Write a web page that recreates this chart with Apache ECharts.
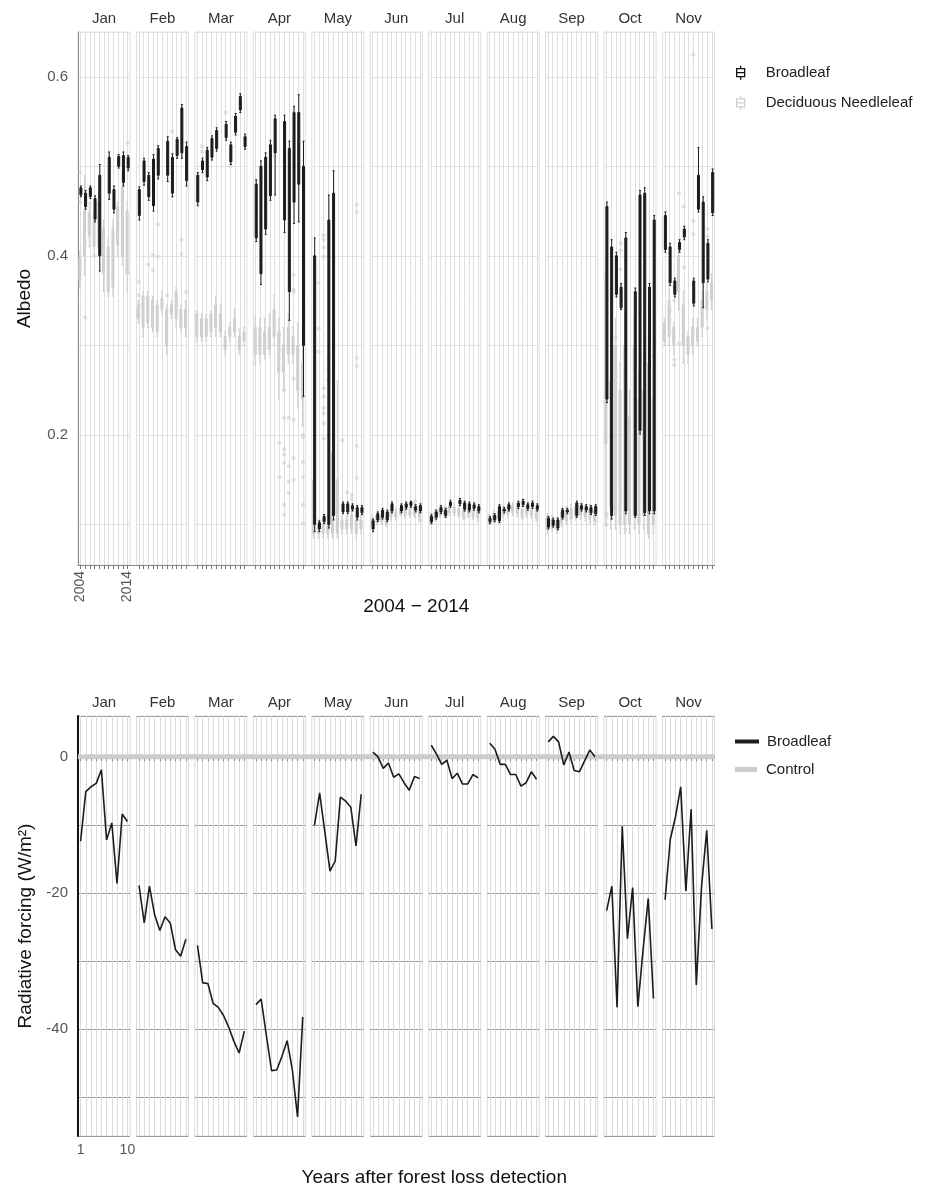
<!DOCTYPE html>
<html><head><meta charset="utf-8">
<script src="https://cdn.jsdelivr.net/npm/echarts@6/dist/echarts.min.js"></script>
<style>html,body{margin:0;padding:0;background:#fff}#c{width:932px;height:1189px}</style>
</head><body><div id="c"></div>
<script>
const months = ['Jan','Feb','Mar','Apr','May','Jun','Jul','Aug','Sep','Oct','Nov'];
const years = ['2004','2005','2006','2007','2008','2009','2010','2011','2012','2013','2014'];
const yearsAfter = ['1','2','3','4','5','6','7','8','9','10'];

// Albedo boxes, Broadleaf: [min, Q1, median, Q3, max] per year 2004..2014 (null = no box)
const blJan = [[.466,.468,.472,.476,.478],[.452,.455,.462,.470,.473],[.464,.466,.471,.476,.478],[.438,.441,.452,.464,.467],[.383,.40,.45,.49,.502],null,[.463,.47,.49,.51,.516],[.448,.452,.462,.474,.478],[.498,.50,.506,.511,.513],[.478,.482,.498,.512,.516],[.495,.498,.504,.51,.512]];
const blFeb = [[.44,.445,.46,.474,.477],[.479,.483,.495,.506,.509],[.462,.466,.478,.49,.493],[.45,.456,.48,.508,.513],[.486,.49,.505,.52,.523],null,[.483,.49,.51,.528,.533],[.466,.47,.49,.51,.514],[.509,.512,.52,.53,.532],[.509,.515,.54,.565,.569],[.478,.484,.50,.522,.527]];
const blMar = [[.456,.46,.475,.49,.493],[.493,.496,.50,.506,.509],[.484,.488,.503,.518,.521],[.507,.51,.52,.531,.534],[.517,.52,.53,.54,.543],null,[.529,.532,.54,.547,.55],[.502,.505,.515,.524,.527],[.535,.538,.548,.556,.559],[.56,.563,.57,.578,.581],[.519,.522,.528,.533,.536]];
const blApr = [[.416,.42,.45,.48,.485],[.368,.38,.44,.50,.506],[.424,.43,.47,.51,.515],[.462,.467,.495,.524,.529],[.468,.515,.535,.553,.557],null,[.426,.44,.49,.55,.557],[.328,.36,.45,.52,.528],[.436,.46,.51,.56,.567],[.438,.48,.52,.56,.58],[.243,.30,.40,.50,.528]];
const blMay = [[.092,.10,.20,.40,.42],[.092,.095,.098,.102,.104],[.101,.103,.106,.109,.111],[.096,.10,.20,.44,.468],[.105,.11,.25,.47,.495],null,[.112,.114,.119,.123,.125],[.112,.114,.119,.123,.125],[.115,.117,.119,.121,.123],[.105,.108,.113,.119,.121],[.111,.113,.116,.119,.121]];
const blJun = [[.092,.095,.10,.104,.106],[.103,.105,.109,.112,.114],[.106,.108,.112,.116,.118],[.103,.105,.11,.114,.116],[.113,.115,.12,.123,.125],null,[.113,.115,.118,.121,.123],[.117,.119,.121,.123,.125],[.119,.121,.123,.125,.126],[.114,.116,.118,.12,.122],[.113,.115,.118,.121,.123]];
const blJul = [[.101,.103,.106,.109,.111],[.106,.108,.111,.114,.116],[.112,.114,.117,.119,.121],[.108,.11,.113,.116,.118],[.119,.121,.123,.125,.127],null,[.121,.123,.125,.127,.129],[.115,.117,.121,.124,.126],[.114,.116,.12,.123,.125],[.116,.118,.12,.122,.124],[.113,.115,.118,.12,.122]];
const blAug = [[.101,.103,.105,.107,.109],[.103,.105,.108,.11,.112],[.102,.104,.112,.12,.122],[.113,.115,.116,.117,.119],[.115,.117,.12,.122,.124],null,[.118,.12,.122,.124,.126],[.12,.122,.124,.126,.128],[.116,.118,.12,.122,.124],[.118,.12,.122,.124,.126],[.115,.117,.119,.121,.123]];
const blSep = [[.095,.097,.102,.107,.109],[.097,.099,.102,.105,.107],[.094,.096,.101,.105,.107],[.106,.108,.112,.116,.118],[.112,.114,.115,.116,.118],null,[.108,.11,.117,.124,.126],[.115,.117,.119,.121,.123],[.114,.116,.118,.12,.122],[.111,.113,.116,.119,.121],[.11,.112,.116,.12,.122]];
const blOct = [[.236,.24,.35,.455,.46],[.106,.11,.25,.41,.418],[.354,.357,.38,.40,.404],[.34,.342,.355,.365,.369],[.112,.115,.27,.42,.426],null,[.108,.11,.24,.36,.364],[.201,.205,.34,.468,.473],[.11,.113,.29,.47,.476],[.112,.115,.24,.365,.369],[.112,.115,.28,.44,.445]];
const blNov = [[.404,.407,.425,.445,.449],[.367,.37,.39,.41,.414],[.354,.357,.365,.372,.375],[.404,.407,.411,.415,.418],[.418,.421,.426,.43,.433],null,[.344,.347,.36,.372,.375],[.449,.452,.47,.49,.521],[.342,.37,.41,.46,.466],[.371,.374,.395,.414,.418],[.445,.448,.47,.493,.497]];

// Albedo boxes, Deciduous Needleleaf
const dnJan = [[.365,.372,.385,.398,.405],[.378,.40,.43,.45,.49],[.41,.423,.435,.448,.46],[.40,.41,.425,.44,.45],[.40,.41,.43,.46,.47],[.36,.38,.40,.43,.44],[.355,.36,.385,.41,.42],[.355,.365,.39,.43,.44],[.40,.412,.43,.455,.46],[.39,.40,.44,.476,.49],[.36,.38,.41,.45,.46]];
const dnFeb = [[.325,.33,.335,.343,.35],[.31,.32,.335,.355,.36],[.32,.325,.34,.355,.36],[.315,.32,.335,.35,.355],[.31,.315,.33,.345,.35],[.335,.34,.345,.352,.36],[.29,.30,.32,.34,.345],[.33,.335,.34,.345,.35],[.32,.33,.345,.36,.365],[.315,.32,.33,.34,.345],[.31,.32,.33,.34,.35]];
const dnMar = [[.305,.31,.32,.335,.338],[.305,.31,.32,.33,.335],[.305,.31,.32,.33,.335],[.31,.315,.325,.335,.338],[.31,.32,.33,.345,.355],[.31,.315,.325,.335,.345],[.29,.295,.30,.31,.315],[.305,.31,.315,.32,.325],[.31,.315,.32,.33,.34],[.29,.295,.305,.31,.318],[.30,.305,.31,.315,.32]];
const dnApr = [[.278,.29,.305,.32,.332],[.28,.29,.305,.32,.33],[.285,.29,.305,.315,.33],[.29,.295,.31,.32,.335],[.30,.31,.325,.34,.356],[.24,.27,.30,.315,.33],[.25,.27,.29,.30,.32],[.28,.29,.30,.32,.335],[.28,.29,.30,.31,.32],[.23,.25,.27,.30,.325],[.21,.24,.26,.28,.30]];
const dnMay = [[.085,.09,.10,.15,.235],[.085,.09,.095,.10,.105],[.085,.09,.095,.10,.105],[.085,.09,.095,.10,.11],[.085,.09,.10,.18,.32],[.085,.09,.10,.15,.26],[.09,.095,.10,.105,.11],[.09,.095,.10,.105,.11],[.09,.095,.10,.11,.115],[.085,.09,.095,.105,.11],[.09,.095,.10,.105,.11]];
const dnJun = [[.095,.098,.102,.107,.11],[.10,.103,.107,.11,.113],[.10,.103,.106,.11,.115],[.098,.10,.104,.108,.112],[.105,.108,.112,.116,.12],[.105,.108,.11,.114,.118],[.11,.112,.115,.118,.122],[.108,.11,.114,.118,.122],[.108,.11,.113,.117,.12],[.108,.11,.115,.12,.124],[.105,.108,.112,.116,.12]];
const dnJul = [[.10,.102,.106,.11,.113],[.104,.106,.11,.114,.117],[.108,.11,.114,.118,.121],[.108,.11,.113,.117,.12],[.11,.113,.117,.121,.124],[.11,.112,.116,.12,.123],[.108,.11,.114,.118,.121],[.105,.108,.112,.116,.12],[.108,.11,.114,.118,.121],[.106,.108,.112,.116,.119],[.104,.107,.111,.115,.118]];
const dnAug = [[.10,.102,.105,.108,.111],[.102,.104,.108,.112,.115],[.104,.107,.111,.115,.118],[.108,.11,.114,.118,.121],[.108,.111,.115,.119,.122],[.11,.113,.117,.121,.124],[.109,.112,.116,.12,.123],[.106,.109,.113,.117,.12],[.108,.111,.115,.119,.122],[.107,.11,.114,.118,.121],[.104,.107,.111,.115,.118]];
const dnSep = [[.09,.094,.10,.108,.112],[.092,.095,.10,.106,.11],[.09,.094,.099,.105,.108],[.098,.102,.108,.114,.118],[.10,.104,.11,.116,.12],[.102,.106,.112,.118,.122],[.105,.108,.114,.12,.124],[.106,.11,.115,.12,.124],[.104,.108,.113,.118,.122],[.102,.106,.112,.118,.122],[.10,.104,.11,.116,.12]];
const dnOct = [[.10,.19,.28,.38,.40],[.095,.12,.18,.26,.30],[.095,.11,.20,.30,.33],[.09,.10,.16,.25,.28],[.09,.10,.20,.30,.34],[.09,.10,.15,.22,.25],[.095,.11,.20,.30,.33],[.09,.10,.16,.24,.27],[.095,.11,.17,.25,.28],[.085,.09,.18,.28,.31],[.09,.10,.16,.24,.27]];
const dnNov = [[.30,.305,.315,.325,.33],[.30,.31,.33,.35,.37],[.29,.30,.31,.32,.325],[.34,.36,.38,.40,.41],[.28,.30,.32,.345,.36],[.28,.29,.30,.31,.315],[.29,.30,.31,.32,.33],[.30,.305,.31,.32,.33],[.31,.32,.335,.35,.36],[.33,.34,.35,.36,.37],[.34,.35,.36,.37,.38]];

// Deciduous Needleleaf outliers: [year index, albedo]
const dnOutJan = [[0,.493],[0,.46],[1,.417],[3,.40],[10,.526],[10,.381],[1,.331]];
const dnOutFeb = [[0,.371],[0,.356],[0,.345],[2,.39],[3,.401],[3,.384],[4,.399],[4,.435],[6,.356],[9,.418],[9,.402],[10,.36],[7,.539],[8,.349],[8,.343]];
const dnOutMar = [[1,.522],[1,.516],[6,.56],[7,.50]];
const dnOutApr = [[4,.511],[5,.312],[5,.295],[8,.36],[6,.25],[8,.263],[6,.219],[7,.219],[8,.217],[10,.20],[10,.198],[5,.191],[6,.184],[6,.178],[6,.169],[8,.174],[7,.165],[10,.17],[10,.153],[5,.153],[7,.148],[8,.15],[7,.135],[10,.122],[6,.122],[6,.111],[10,.101],[8,.379],[8,.362]];
const dnOutMay = [[1,.319],[1,.293],[2,.252],[2,.243],[2,.23],[2,.224],[2,.213],[2,.196],[3,.286],[3,.274],[3,.262],[6,.194],[9,.286],[9,.277],[9,.188],[9,.152],[7,.136],[8,.133],[8,.128],[5,.12],[2,.423],[2,.418],[2,.409],[2,.399],[1,.37],[9,.457],[9,.449]];
const dnOutJun = [[9,.126],[10,.104]];
const dnOutJul = [[7,.108],[8,.111]];
const dnOutAug = [[7,.109]];
const dnOutSep = [[0,.099],[10,.104]];
const dnOutOct = [[3,.414],[3,.406],[3,.385],[2,.309],[2,.27],[2,.265],[2,.257],[0,.10],[0,.108],[0,.112],[4,.094],[3,.137],[3,.131],[3,.127],[6,.15],[10,.288]];
const dnOutNov = [[3,.47],[4,.455],[6,.439],[6,.424],[6,.625],[9,.43],[9,.422],[9,.412],[1,.338],[1,.342],[1,.329],[1,.315],[3,.302],[2,.284],[2,.278],[5,.305],[4,.387],[2,.364],[2,.35],[9,.319]];

// Radiative forcing (W/m2), Broadleaf, years 1..10 after forest loss detection
const rfJan = [-12.4,-5.1,-4.4,-3.9,-1.9,-12.2,-9.7,-18.6,-8.4,-9.5];
const rfFeb = [-18.9,-24.4,-19.0,-23.2,-25.5,-23.5,-24.4,-28.3,-29.3,-26.8];
const rfMar = [-27.7,-33.2,-33.3,-36.2,-36.8,-38.0,-39.7,-41.8,-43.5,-40.3];
const rfApr = [-36.4,-35.6,-40.9,-46.1,-46.0,-44.0,-41.7,-46.0,-52.9,-38.2];
const rfMay = [-10.1,-5.3,-11.0,-16.8,-15.3,-5.9,-6.5,-7.4,-13.1,-5.5];
const rfJun = [0.7,0.0,-1.7,-0.9,-3.0,-2.5,-3.8,-4.9,-2.9,-3.2];
const rfJul = [1.7,0.4,-1.1,-0.5,-3.2,-2.4,-4.0,-4.0,-2.6,-3.1];
const rfAug = [2.0,1.1,-1.1,-1.1,-2.6,-2.6,-4.3,-3.8,-2.2,-3.3];
const rfSep = [2.2,3.0,2.2,-1.2,0.7,-2.0,-2.2,-0.6,1.0,0.0];
const rfOct = [-22.6,-19.0,-36.8,-10.2,-26.7,-19.2,-36.7,-28.4,-20.8,-35.5];
const rfNov = [-21.0,-12.1,-8.8,-4.4,-19.7,-7.7,-33.5,-19.1,-10.8,-25.3];
const controlRF = [0, 0];

const albedoTicksLabelled = [0.2, 0.4, 0.6];
const rfTicksLabelled = [0, -20, -40];

const blBoxes = [blJan,blFeb,blMar,blApr,blMay,blJun,blJul,blAug,blSep,blOct,blNov];
const dnBoxes = [dnJan,dnFeb,dnMar,dnApr,dnMay,dnJun,dnJul,dnAug,dnSep,dnOct,dnNov];
const dnOutliers = [dnOutJan,dnOutFeb,dnOutMar,dnOutApr,dnOutMay,dnOutJun,dnOutJul,dnOutAug,dnOutSep,dnOutOct,dnOutNov];
const rfLines = [rfJan,rfFeb,rfMar,rfApr,rfMay,rfJun,rfJul,rfAug,rfSep,rfOct,rfNov];

// ---- layout ----
const FX0 = 78, FSTEP = 58.45, FW = 52;
const T_TOP = 32, T_H = 533;
const B_TOP = 716, B_H = 420;
const ALB_MIN = 0.0547, ALB_MAX = 0.650;
const RF_MIN = -55.7, RF_MAX = 6.0;
const FRAME_W = 10 * FSTEP + FW;
const FONT = 'Liberation Sans';

const grid = [], xAxis = [], yAxis = [], series = [];
const BLACK = '#1c1c1c', GREY = '#cdcdcd';
const near = (v, arr) => arr.some(a => Math.abs(a - v) < 1e-6);

function toBox(arr) {
  const out = [];
  arr.forEach((b, i) => { if (b) out.push([i, ...b]); });
  return out;
}
function stripAxis(g, cats, label) {
  return { gridIndex: g, type: 'category', data: cats, position: 'top', axisLine: { show: false }, axisTick: { show: false }, axisLabel: { show: false }, splitLine: { show: false },
    name: label, nameLocation: 'middle', nameGap: 6, nameTextStyle: { fontSize: 15, color: '#333', fontFamily: FONT } };
}

// top facets
for (let i = 0; i < 11; i++) {
  const g = grid.length;
  grid.push({ left: FX0 + i * FSTEP, top: T_TOP, width: FW, height: T_H, show: true, borderColor: '#dedede', borderWidth: 1, backgroundColor: 'transparent' });
  const xi = xAxis.length;
  xAxis.push({ gridIndex: g, type: 'category', data: years, boundaryGap: true,
    axisLine: { show: false },
    axisTick: { show: true, alignWithLabel: true, interval: 0, length: 4, lineStyle: { color: '#777' } },
    axisLabel: { show: i === 0, interval: (idx) => idx === 0 || idx === 10, rotate: 90, fontSize: 14, color: '#555', margin: 6, fontFamily: FONT },
    splitLine: { show: true, alignWithLabel: true, interval: 0, lineStyle: { color: '#dedede', width: 1 } } });
  xAxis.push(stripAxis(g, years, months[i]));
  const yi = yAxis.length;
  yAxis.push({ gridIndex: g, type: 'value', min: ALB_MIN, max: ALB_MAX, axisLine: { show: false }, axisTick: { show: false }, axisLabel: { show: false },
    splitLine: { show: true, lineStyle: { color: '#e4e4e4', width: 1 } } });
  series.push({ type: 'boxplot', name: 'Deciduous Needleleaf', xAxisIndex: xi, yAxisIndex: yi, encode: { x: 0, y: [1, 2, 3, 4, 5] },
    data: toBox(dnBoxes[i]), boxWidth: [2, 2], itemStyle: { color: '#d2d2d2', borderColor: GREY, borderWidth: 1 }, silent: true, z: 2 });
  series.push({ type: 'scatter', name: 'Deciduous Needleleaf', xAxisIndex: xi, yAxisIndex: yi, data: dnOutliers[i], symbolSize: 4,
    itemStyle: { color: '#d4d4d4', opacity: 0.75 }, silent: true, z: 2 });
  series.push({ type: 'boxplot', name: 'Broadleaf', xAxisIndex: xi, yAxisIndex: yi, encode: { x: 0, y: [1, 2, 3, 4, 5] },
    data: toBox(blBoxes[i]), boxWidth: [2, 2], itemStyle: { color: BLACK, borderColor: BLACK, borderWidth: 1 }, silent: true, z: 3 });
}
// top frame
{
  const g = grid.length;
  grid.push({ left: FX0, top: T_TOP, width: FRAME_W, height: T_H });
  xAxis.push({ gridIndex: g, type: 'value', min: 0, max: 1, axisLine: { show: true, lineStyle: { color: '#8a8a8a', width: 1 } }, axisTick: { show: false }, axisLabel: { show: false }, splitLine: { show: false },
    name: '2004 − 2014', nameLocation: 'middle', nameGap: 32, nameTextStyle: { fontSize: 19, color: '#111', padding: [0, 0, 0, 40], fontFamily: FONT } });
  yAxis.push({ gridIndex: g, type: 'value', min: ALB_MIN, max: ALB_MAX, axisLine: { show: true, lineStyle: { color: '#8a8a8a', width: 1 } }, axisTick: { show: false },
    axisLabel: { show: true, fontSize: 15, color: '#555', margin: 10, fontFamily: FONT, formatter: (v) => near(v, albedoTicksLabelled) ? v.toFixed(1) : '' },
    splitLine: { show: false }, name: 'Albedo', nameLocation: 'middle', nameGap: 44, nameTextStyle: { fontSize: 19, color: '#111', fontFamily: FONT } });
}
// bottom facets
for (let i = 0; i < 11; i++) {
  const g = grid.length;
  grid.push({ left: FX0 + i * FSTEP, top: B_TOP, width: FW, height: B_H, show: true, borderColor: '#dadada', borderWidth: 1, backgroundColor: 'transparent' });
  const xi = xAxis.length;
  xAxis.push({ gridIndex: g, type: 'category', data: yearsAfter, boundaryGap: true,
    axisLine: { show: false },
    axisTick: { show: true, alignWithLabel: true, interval: 0, length: 4, lineStyle: { color: '#777' } },
    axisLabel: { show: i === 0, interval: (idx) => idx === 0 || idx === 9, fontSize: 14, color: '#555', margin: 7, fontFamily: FONT },
    splitLine: { show: true, alignWithLabel: true, interval: 0, lineStyle: { color: '#d9d9d9', width: 1 } } });
  xAxis.push(stripAxis(g, yearsAfter, months[i]));
  const yi = yAxis.length;
  yAxis.push({ gridIndex: g, type: 'value', min: RF_MIN, max: RF_MAX, axisLine: { show: false }, axisTick: { show: false }, axisLabel: { show: false },
    splitLine: { show: true, lineStyle: { color: '#9a9a9a', width: 1 } } });
  series.push({ type: 'line', name: 'Broadleaf', xAxisIndex: xi, yAxisIndex: yi, data: rfLines[i], showSymbol: false, symbol: 'none',
    lineStyle: { color: BLACK, width: 1.6 }, itemStyle: { color: BLACK }, silent: true, z: 4 });
}
// bottom frame
{
  const g = grid.length;
  grid.push({ left: FX0, top: B_TOP, width: FRAME_W, height: B_H });
  const xi = xAxis.length;
  xAxis.push({ gridIndex: g, type: 'value', min: 0, max: 1, axisLine: { show: true, lineStyle: { color: '#8a8a8a', width: 1 } }, axisTick: { show: false }, axisLabel: { show: false }, splitLine: { show: false },
    name: 'Years after forest loss detection', nameLocation: 'middle', nameGap: 32, nameTextStyle: { fontSize: 19, color: '#111', padding: [0, 0, 0, 76], fontFamily: FONT } });
  const yi = yAxis.length;
  yAxis.push({ gridIndex: g, type: 'value', min: RF_MIN, max: RF_MAX, axisLine: { show: true, lineStyle: { color: '#111', width: 2 } }, axisTick: { show: false },
    axisLabel: { show: true, fontSize: 15, color: '#555', margin: 10, fontFamily: FONT, formatter: (v) => near(v, rfTicksLabelled) ? String(Math.round(v)) : '' },
    splitLine: { show: false }, name: 'Radiative forcing (W/m²)', nameLocation: 'middle', nameGap: 42, nameTextStyle: { fontSize: 19, color: '#111', fontFamily: FONT } });
  series.push({ type: 'line', name: 'Control', xAxisIndex: xi, yAxisIndex: yi, data: [[0, controlRF[0]], [1, controlRF[1]]], showSymbol: false, symbol: 'none',
    lineStyle: { color: '#cccccc', width: 5 }, itemStyle: { color: '#cccccc' }, silent: true, z: 3 });
}

const boxIcon = 'path://M4.5,0V3M0.5,3H8.5V11H0.5ZM0.5,7H8.5M4.5,11V14';
const chart = echarts.init(document.getElementById('c'), null, { renderer: 'canvas' });
chart.setOption({
  animation: false,
  backgroundColor: '#fff',
  textStyle: { fontFamily: FONT },
  grid, xAxis, yAxis, series,
  legend: [
    { left: 731, top: 60, orient: 'vertical', itemWidth: 10, itemHeight: 14, itemGap: 15, selectedMode: false,
      textStyle: { fontSize: 15, color: '#222', padding: [0, 0, 0, 15], fontFamily: FONT },
      data: [
        { name: 'Broadleaf', icon: boxIcon, itemStyle: { color: '#fff', borderColor: '#111', borderWidth: 1.3 } },
        { name: 'Deciduous Needleleaf', icon: boxIcon, itemStyle: { color: '#fff', borderColor: '#cfcfcf', borderWidth: 1.3 } }
      ] },
    { left: 730, top: 729, orient: 'vertical', itemWidth: 22, itemHeight: 2, selectedMode: false,
      textStyle: { fontSize: 15, color: '#222', padding: [0, 0, 0, 4], fontFamily: FONT },
      data: [{ name: 'Broadleaf', icon: 'rect', itemStyle: { color: '#111' } }] },
    { left: 730, top: 757, orient: 'vertical', itemWidth: 22, itemHeight: 5, selectedMode: false,
      textStyle: { fontSize: 15, color: '#222', padding: [0, 0, 0, 4], fontFamily: FONT },
      data: [{ name: 'Control', icon: 'rect', itemStyle: { color: '#cccccc' } }] }
  ]
});
</script></body></html>
